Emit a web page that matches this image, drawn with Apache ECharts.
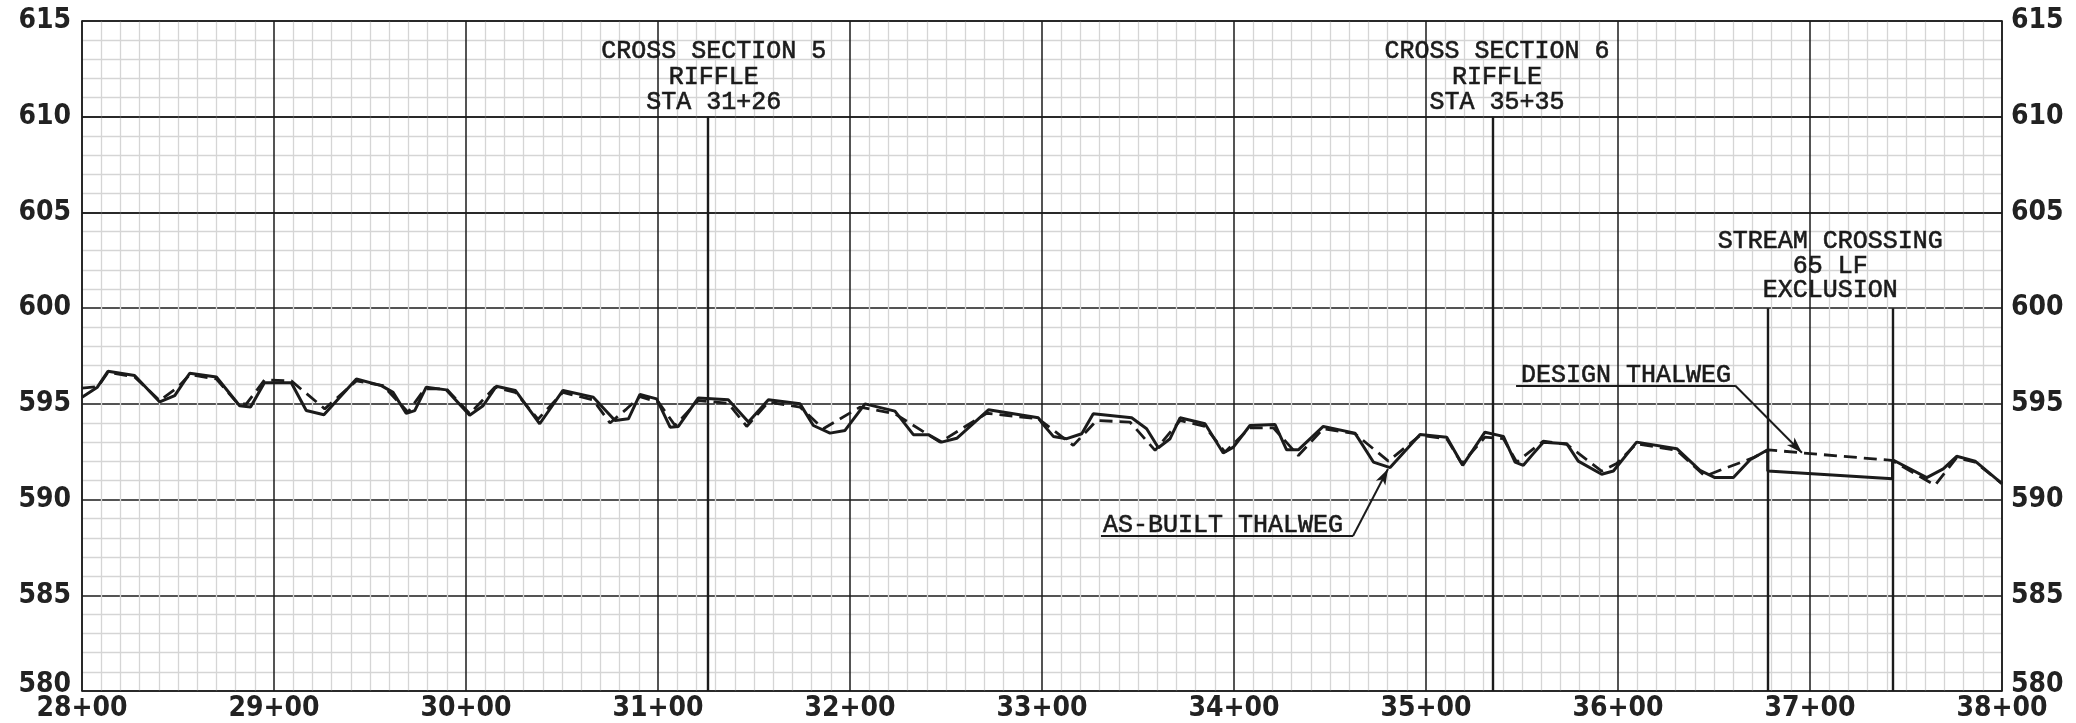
<!DOCTYPE html>
<html>
<head>
<meta charset="utf-8">
<title>Thalweg Profile STA 28+00 to 38+00</title>
<script src="https://cdn.jsdelivr.net/npm/echarts@6/dist/echarts.min.js"></script>
<style>
  html, body { margin: 0; padding: 0; background: #ffffff; }
  #chart { width: 2076px; height: 723px; }
</style>
</head>
<body>
<div id="chart"></div>
<script>
// Stationing (ft) and elevations (ft) of the surveyed as-built thalweg
const asBuiltStation = [2800, 2808, 2813.5, 2827.4, 2840.5, 2848.3, 2856.1, 2870, 2882.1, 2887.8, 2895, 2909,
  2916.8, 2926, 2942.9, 2955.9, 2962, 2968.9, 2973.3, 2979.3, 2989.8, 3001.9, 3008.9, 3015.8, 3025.7, 3038.4,
  3050.5, 3066.3, 3077.6, 3084.6, 3090.6, 3099.3, 3106.3, 3110.6, 3121, 3136.6, 3147.1, 3157.5, 3174, 3180.9,
  3189.6, 3197.4, 3207.8, 3223.4, 3233, 3240.8, 3247.7, 3255.6, 3272.1, 3298.1, 3300, 3305.9, 3312.9, 3320.7,
  3326.7, 3346.7, 3354.5, 3360.6, 3366.7, 3371.9, 3384.9, 3394.4, 3399.7, 3408.3, 3421.4, 3427.4, 3433.5, 3446.5,
  3463, 3472.6, 3481.3, 3496.9, 3510.8, 3519.1, 3530.7, 3540.3, 3546.4, 3550.7, 3555.9, 3561.1, 3573.3, 3579.3,
  3591.5, 3597.6, 3609.7, 3630.6, 3642.7, 3650.5, 3660.1, 3668.8, 3678, 3678, 3743, 3743, 3760.8, 3769.4,
  3776.4, 3786, 3800];
const asBuiltElev = [595.35, 595.87, 596.7, 596.48, 595.1, 595.43, 596.6, 596.4, 594.9, 594.83, 596.1, 596.1,
  594.65, 594.43, 596.3, 595.95, 595.6, 594.5, 594.65, 595.87, 595.73, 594.4, 594.9, 595.92, 595.7, 593.96,
  595.7, 595.35, 594.13, 594.22, 595.49, 595.26, 593.78, 593.82, 595.31, 595.21, 594.05, 595.21, 595.0, 593.87,
  593.47, 593.61, 595.0, 594.62, 593.39, 593.39, 593.0, 593.2, 594.69, 594.27, 594.0, 593.3, 593.18, 593.44,
  594.48, 594.27, 593.7, 592.71, 593.18, 594.27, 593.96, 592.43, 592.74, 593.87, 593.92, 592.6, 592.6, 593.82,
  593.47, 591.96, 591.67, 593.4, 593.26, 591.79, 593.52, 593.3, 591.96, 591.79, 592.4, 593.0, 592.92, 592.01,
  591.32, 591.49, 593.0, 592.66, 591.53, 591.15, 591.15, 592.08, 592.6, 591.49, 591.09, 592.08, 591.15, 591.6,
  592.26, 592.01, 590.83];

// Stationing (ft) and elevations (ft) of the design thalweg
const designStation = [2800, 2808.3, 2813.5, 2827.4, 2840.5, 2850, 2856.1, 2870, 2881.3, 2885.6, 2895.1, 2909,
  2926.4, 2942.9, 2956.8, 2969.8, 2978.5, 2989.8, 3002, 3015, 3025.7, 3037.5, 3050.5, 3066.3, 3075, 3083.7,
  3090.6, 3100.2, 3108.9, 3121, 3136.6, 3146.2, 3157.5, 3174, 3186.1, 3205.2, 3223.4, 3246.9, 3271.2, 3298.1,
  3316.3, 3328.5, 3345.8, 3358.9, 3371.9, 3384.9, 3395.3, 3408.3, 3420.5, 3433.5, 3446.5, 3463, 3480.4, 3496.9,
  3510.8, 3518.6, 3530.7, 3540.3, 3547.2, 3561.1, 3573.3, 3591.5, 3599.3, 3609.7, 3630.6, 3645.3, 3653.1,
  3670.5, 3678.3, 3696.5, 3742.5, 3765.1, 3776.4, 3786, 3800];
const designElev = [595.82, 595.9, 596.65, 596.4, 595.17, 595.87, 596.53, 596.3, 595.0, 595.0, 596.25, 596.2,
  594.74, 596.2, 595.95, 594.57, 595.78, 595.78, 594.48, 595.87, 595.6, 594.2, 595.6, 595.2, 594.0, 594.74,
  595.38, 595.09, 593.87, 595.17, 595.03, 593.82, 595.09, 594.83, 593.7, 594.83, 594.48, 593.0, 594.51, 594.22,
  592.83, 594.13, 594.05, 592.57, 594.13, 593.82, 592.48, 593.75, 593.75, 592.3, 593.7, 593.44, 592.01, 593.35,
  593.18, 591.88, 593.26, 593.18, 591.96, 593.05, 592.88, 591.49, 591.88, 592.92, 592.57, 591.22, 591.53,
  592.19, 592.6, 592.43, 592.05, 590.75, 592.19, 591.96, 590.83];

// Axis ranges and tick spacing
const stationRange = [2800, 3800];
const stationStep = 100;
const elevRange = [580, 615];
const elevStep = 5;

// Cross sections and the stream crossing exclusion zone
const crossSections = [
  { station: 3126, textStation: 3129, lines: ['CROSS SECTION 5', 'RIFFLE', 'STA 31+26'] },
  { station: 3535, textStation: 3537, lines: ['CROSS SECTION 6', 'RIFFLE', 'STA 35+35'] }
];
const crossingLimits = [3678, 3743];
const crossingText = ['STREAM CROSSING', '65 LF', 'EXCLUSION'];

const INK = '#1b1b1b';
const GRID_MINOR = '#d5d5d5';
const NOTE_FONT = 'Liberation Mono';
const AXIS_FONT = "'DejaVu Sans Condensed', 'DejaVu Sans'";

function zip(xs, ys) { return xs.map((x, i) => [x, ys[i]]); }
function staLabel(v) {
  const hundreds = Math.floor(v / 100);
  const rest = Math.round(v - hundreds * 100);
  return hundreds + '+' + (rest < 10 ? '0' : '') + rest;
}
function elevLabel(v) { return v === elevRange[0] ? '{low|' + v + '}' : String(v); }

const axisTextStyle = { fontFamily: AXIS_FONT, fontSize: 28, fontWeight: 'bold', color: '#222222' };
const axisLabelStyle = Object.assign({}, axisTextStyle, {
  rich: { low: Object.assign({ padding: [0, 0, 12, 0] }, axisTextStyle) }
});

// Reference lines drawn in data space
const segLine = (x1, y1, x2, y2, width, arrow) => [
  { coord: [x1, y1], symbol: 'none' },
  { coord: [x2, y2], symbol: arrow ? 'arrow' : 'none', symbolSize: [8, 16],
    lineStyle: { width: width, color: INK, type: 'solid' } }
];
const refLines = [];
crossSections.forEach(cs => refLines.push(segLine(cs.station, elevRange[0], cs.station, 610, 2.4)));
crossingLimits.forEach(s => refLines.push(segLine(s, elevRange[0], s, 600, 2.4)));
// major grid lines above 600 stay solid across the minor grid
[605, 610].forEach(e => refLines.push(segLine(stationRange[0], e, stationRange[1], e, 1.5)));
// leaders
refLines.push(segLine(3546.9, 595.96, 3661, 595.96, 2));
refLines.push(segLine(3661, 595.96, 3695.8, 592.45, 2, true));
refLines.push(segLine(3330.7, 588.1, 3462, 588.1, 2));
refLines.push(segLine(3462, 588.1, 3480.2, 591.6, 2, true));

const noteLabel = (extra) => Object.assign({
  show: true, position: 'inside', fontFamily: NOTE_FONT, fontSize: 25, color: INK,
  textBorderColor: INK, textBorderWidth: 0.6,
  lineHeight: 25.5, align: 'center', verticalAlign: 'middle'
}, extra);
const notes = [];
crossSections.forEach(cs => notes.push({
  coord: [cs.textStation, 612.06], value: cs.lines.join('\n'), label: noteLabel({})
}));
notes.push({ coord: [3710.5, 602.2], value: crossingText.join('\n'), label: noteLabel({ lineHeight: 24.5 }) });
notes.push({ coord: [3549.5, 595.84], value: 'DESIGN THALWEG',
  label: noteLabel({ align: 'left', verticalAlign: 'bottom' }) });
notes.push({ coord: [3331.8, 587.99], value: 'AS-BUILT THALWEG',
  label: noteLabel({ align: 'left', verticalAlign: 'bottom' }) });

const chart = echarts.init(document.getElementById('chart'), null, { renderer: 'canvas' });
chart.setOption({
  animation: false,
  backgroundColor: '#ffffff',
  grid: { left: 82, right: 74, top: 21, bottom: 30, containLabel: false },
  xAxis: [
    {
      type: 'value', position: 'bottom', z: 1,
      min: stationRange[0], max: stationRange[1], interval: stationStep,
      axisLine: { show: true, onZero: false, lineStyle: { color: INK, width: 1.5 } },
      axisTick: { show: false },
      axisLabel: Object.assign({ margin: 4, formatter: staLabel }, axisLabelStyle),
      splitLine: { show: false },
      minorTick: { show: false, splitNumber: 10 },
      minorSplitLine: { show: true, lineStyle: { color: GRID_MINOR, width: 1.3 } }
    },
    {
      type: 'value', position: 'top', z: 2,
      min: stationRange[0], max: stationRange[1], interval: stationStep,
      axisLine: { show: true, onZero: false, lineStyle: { color: INK, width: 1.5 } },
      axisTick: { show: false }, axisLabel: { show: false },
      splitLine: { show: true, lineStyle: { color: INK, width: 1.5 } }
    }
  ],
  yAxis: [
    {
      type: 'value', position: 'left', z: 0,
      min: elevRange[0], max: elevRange[1], interval: elevStep,
      axisLine: { show: true, onZero: false, lineStyle: { color: INK, width: 1.5 } },
      axisTick: { show: false },
      axisLabel: Object.assign({ margin: 11, formatter: elevLabel }, axisLabelStyle),
      splitLine: { show: true, lineStyle: { color: INK, width: 1.5 } },
      minorTick: { show: false, splitNumber: 5 },
      minorSplitLine: { show: true, lineStyle: { color: GRID_MINOR, width: 1.3 } }
    },
    {
      type: 'value', position: 'right', z: 2,
      min: elevRange[0], max: elevRange[1], interval: elevStep,
      axisLine: { show: true, onZero: false, lineStyle: { color: INK, width: 1.5 } },
      axisTick: { show: false },
      axisLabel: Object.assign({ margin: 9, formatter: elevLabel }, axisLabelStyle),
      splitLine: { show: false }
    }
  ],
  series: [
    {
      name: 'DESIGN THALWEG', type: 'line', z: 4,
      data: zip(designStation, designElev),
      showSymbol: false, symbol: 'none',
      lineStyle: { color: INK, width: 2.8, type: [13, 7] },
      emphasis: { disabled: true }
    },
    {
      name: 'AS-BUILT THALWEG', type: 'line', z: 4,
      data: zip(asBuiltStation, asBuiltElev),
      showSymbol: false, symbol: 'none',
      lineStyle: { color: INK, width: 3 },
      emphasis: { disabled: true }
    },
    {
      name: 'notes', type: 'line', data: [], silent: true,
      markLine: {
        silent: true, symbol: ['none', 'none'], animation: false,
        label: { show: false }, emphasis: { disabled: true },
        lineStyle: { color: INK, type: 'solid', width: 2 },
        data: refLines
      },
      markPoint: {
        silent: true, symbol: 'rect', symbolSize: 1, animation: false,
        itemStyle: { color: 'rgba(0,0,0,0)' },
        emphasis: { disabled: true },
        data: notes
      }
    }
  ]
});
</script>
</body>
</html>
